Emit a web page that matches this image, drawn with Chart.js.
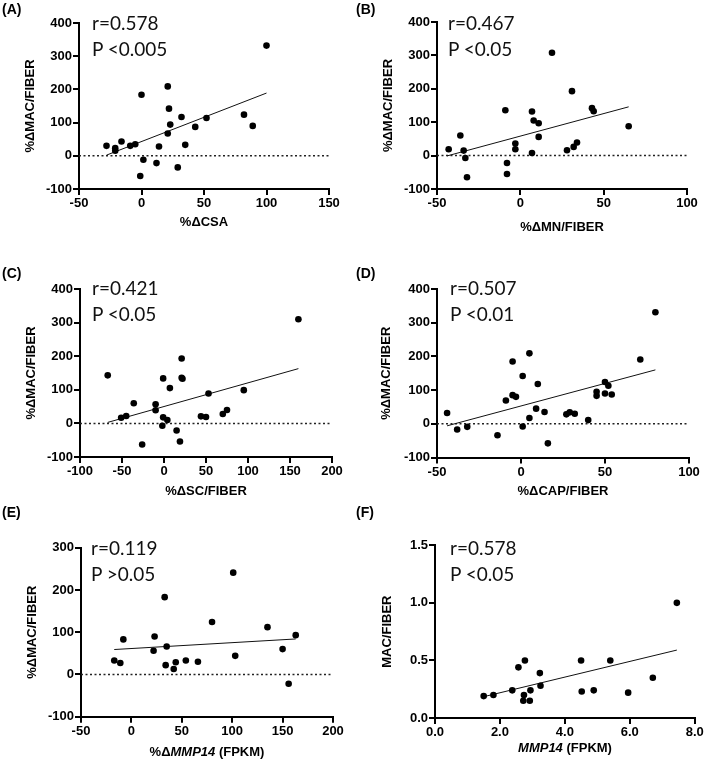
<!DOCTYPE html>
<html>
<head>
<meta charset="utf-8">
<script src="https://cdn.jsdelivr.net/npm/chart.js@4.4.1/dist/chart.umd.min.js"></script>
<style>
body { margin: 0; background: #fff; width: 709px; height: 769px; position: relative; overflow: hidden; font-family: "Liberation Sans", Arial, sans-serif; }
canvas { position: absolute; }
.tag { position: absolute; font-weight: bold; font-size: 14px; line-height: 14px; color: #000; }
.stat { position: absolute; font-family: Lato, sans-serif; font-size: 19px; line-height: 25.5px; color: #111; white-space: nowrap; }
.xt { position: absolute; font-weight: bold; font-size: 13px; line-height: 13px; text-align: center; color: #000; white-space: nowrap; }
</style>
</head>
<body>
<canvas id="pa" width="354" height="250" style="left:0;top:0"></canvas>
<canvas id="pb" width="355" height="250" style="left:354px;top:0"></canvas>
<canvas id="pc" width="354" height="260" style="left:0;top:250px"></canvas>
<canvas id="pd" width="355" height="260" style="left:354px;top:250px"></canvas>
<canvas id="pe" width="354" height="259" style="left:0;top:510px"></canvas>
<canvas id="pf" width="355" height="259" style="left:354px;top:510px"></canvas>

<div class="tag" style="left:2px;top:2px">(A)</div>
<div class="tag" style="left:356px;top:2px">(B)</div>
<div class="tag" style="left:2px;top:266px">(C)</div>
<div class="tag" style="left:356px;top:266px">(D)</div>
<div class="tag" style="left:2px;top:505px">(E)</div>
<div class="tag" style="left:356px;top:505px">(F)</div>

<div class="stat" style="left:92px;top:10px">r=0.578<br>P &lt;0.005</div>
<div class="stat" style="left:448px;top:10px">r=0.467<br>P &lt;0.05</div>
<div class="stat" style="left:92px;top:275px">r=0.421<br>P &lt;0.05</div>
<div class="stat" style="left:450px;top:275px">r=0.507<br>P &lt;0.01</div>
<div class="stat" style="left:91px;top:535px">r=0.119<br>P &gt;0.05</div>
<div class="stat" style="left:450px;top:535px">r=0.578<br>P &lt;0.05</div>

<div class="xt" style="left:81px;width:252px;top:745px">%&Delta;<i>MMP14</i> (FPKM)</div>
<div class="xt" style="left:435px;width:260px;top:741px"><i>MMP14</i> (FPKM)</div>

<script>
// (A) %dCSA vs %dMAC/FIBER
const aX = [100, 21, 0, 22, 32, 23, 21, 43, 52, 82, 89, -28, -21, -21, -16, -9, -5, 14, 35, 1.5, 12, 29, -1];
const aY = [332, 209, 184, 142, 117, 94, 67, 87, 114, 124, 90, 30, 23, 15, 43, 30, 35, 28, 33, -12, -22, -35, -61];
const aFitX = [-28, 100];
const aFitY = [2, 189];

// (B) %dMN/FIBER
const bX = [19, 31, -9, 7, 8, 11, 43, 44, 65, 11, -36, -43, -34, -33, -32, -3, -3, 7, -8, -8, 28, 32, 34];
const bY = [308, 193, 136, 132, 105, 97, 142, 133, 88, 56, 60, 19, 15, -7, -65, 36, 19, 8, -22, -55, 16, 26, 39];
const bFitX = [-44, 65];
const bFitY = [-1, 146];

// (C) %dSC/FIBER
const cX = [160, -67, 21, 21, 22, -1, 7, 53, 95, -36, -10, -10, -51, -45, -1, 4, -2, 15, 19, -26, 44, 50, 70, 75];
const cY = [310, 143, 193, 136, 133, 134, 105, 89, 99, 60, 57, 39, 17, 22, 18, 10, -7, -21, -54, -63, 21, 19, 28, 40];
const cFitX = [-67, 160];
const cFitY = [3, 163];

// (D) %dCAP/FIBER
const dX = [80, 71, 5, -5, 1, 10, -5, -3, -9, 9, 14, 5, 1, -14, 16, -44, -38, -32, 27, 29, 32, 40, 45, 45, 50, 52, 50, 54];
const dY = [331, 191, 209, 185, 142, 118, 85, 80, 69, 45, 35, 17, -8, -34, -58, 32, -17, -9, 28, 34, 30, 11, 95, 83, 124, 113, 90, 87];
const dFitX = [-44, 80];
const dFitY = [-6, 160];

// (E) %dMMP14 (FPKM)
const eX = [101, 33, 80, 135, -8, 23, 163, 35, 22, 150, 103, -17, -11, 54, 66, 44, 34, 42, 156];
const eY = [241, 183, 124, 112, 83, 90, 93, 66, 56, 60, 44, 33, 27, 33, 30, 29, 22, 13, -22];
const eFitX = [-17, 163];
const eFitY = [59, 84];

// (F) MMP14 (FPKM) vs MAC/FIBER
const fX = [7.45, 1.5, 1.8, 2.38, 2.57, 2.77, 2.74, 2.72, 2.92, 2.94, 3.23, 3.25, 4.5, 4.52, 4.89, 5.4, 5.95, 6.71];
const fY = [1.0, 0.19, 0.2, 0.24, 0.44, 0.5, 0.2, 0.15, 0.15, 0.24, 0.39, 0.28, 0.5, 0.23, 0.24, 0.5, 0.22, 0.35];
const fFitX = [1.5, 7.45];
const fFitY = [0.185, 0.59];

const MAC_TITLE = '%\u0394MAC/FIBER';
const TICK_FONT = {family: 'Liberation Sans', size: 13, weight: 'bold'};

function pts(xs, ys) {
    return xs.map((x, i) => ({x: x, y: ys[i]}));
}

function oneDecimal(v) {
    return Number(v).toFixed(1);
}

function axis(min, max, step, title, titlePad, fixed, isY, fmt) {
    return {
        type: 'linear',
        min: min,
        max: max,
        ticks: {
            stepSize: step,
            color: '#000',
            font: TICK_FONT,
            padding: 1,
            maxRotation: 0,
            callback: fmt ? fmt : (v) => v
        },
        grid: {display: true, drawOnChartArea: false, drawTicks: true, tickLength: 6, color: '#000', lineWidth: 2},
        border: {display: true, color: '#000', width: 2},
        title: {
            display: !!title,
            text: title,
            color: '#000',
            font: {family: 'Liberation Sans', size: 13, weight: 'bold'},
            padding: isY ? {top: titlePad, bottom: 0} : {top: 0, bottom: titlePad}
        },
        afterFit: (scale) => {
            if (isY) scale.width = fixed; else scale.height = fixed;
        }
    };
}

function makePanel(id, p) {
    const canvas = document.getElementById(id);
    const datasets = [
        {type: 'scatter', data: pts(p.x, p.y), pointRadius: 3.3, pointBackgroundColor: '#000', pointBorderWidth: 0, order: 1},
        {type: 'line', data: pts(p.fitX, p.fitY), borderColor: '#111', borderWidth: 1, pointRadius: 0, fill: false, order: 2}
    ];
    if (p.zero) {
        datasets.push({type: 'line', data: pts([p.xr[0], p.xr[1]], [0, 0]), borderColor: '#222', borderWidth: 1.5,
            borderDash: [2, 2.5], pointRadius: 0, fill: false, order: 3});
    }
    return new Chart(canvas, {
        type: 'scatter',
        data: {datasets: datasets},
        options: {
            responsive: false,
            animation: false,
            events: [],
            layout: {padding: {left: 0, top: p.area[1], right: canvas.width - p.area[2], bottom: 0}},
            plugins: {legend: {display: false}, tooltip: {enabled: false}},
            scales: {
                x: axis(p.xr[0], p.xr[1], p.xr[2], p.xTitle, p.xPad, canvas.height - p.area[3], false, p.fmt),
                y: axis(p.yr[0], p.yr[1], p.yr[2], p.yTitle, p.yPad, p.area[0], true, p.fmt)
            }
        }
    });
}

makePanel('pa', {x: aX, y: aY, fitX: aFitX, fitY: aFitY, zero: true, xr: [-50, 150, 50], yr: [-100, 400, 100],
    xTitle: '%\u0394CSA', yTitle: MAC_TITLE, xPad: 20, yPad: 23, area: [79, 23, 329, 189]});
makePanel('pb', {x: bX, y: bY, fitX: bFitX, fitY: bFitY, zero: true, xr: [-50, 100, 50], yr: [-100, 400, 100],
    xTitle: '%\u0394MN/FIBER', yTitle: MAC_TITLE, xPad: 15, yPad: 27, area: [83, 22, 333, 189]});
makePanel('pc', {x: cX, y: cY, fitX: cFitX, fitY: cFitY, zero: true, xr: [-100, 200, 50], yr: [-100, 400, 100],
    xTitle: '%\u0394SC/FIBER', yTitle: MAC_TITLE, xPad: 11, yPad: 24, area: [80, 39, 332, 207]});
makePanel('pd', {x: dX, y: dY, fitX: dFitX, fitY: dFitY, zero: true, xr: [-50, 100, 50], yr: [-100, 400, 100],
    xTitle: '%\u0394CAP/FIBER', yTitle: MAC_TITLE, xPad: 11, yPad: 25, area: [83, 39, 335, 207.5]});
makePanel('pe', {x: eX, y: eY, fitX: eFitX, fitY: eFitY, zero: true, xr: [-50, 200, 50], yr: [-100, 300, 100],
    xTitle: '', yTitle: MAC_TITLE, xPad: 0, yPad: 25, area: [81, 37.7, 333, 206.7]});
makePanel('pf', {x: fX, y: fY, fitX: fFitX, fitY: fFitY, zero: false, xr: [0, 8, 2], yr: [0, 1.5, 0.5],
    xTitle: '', yTitle: 'MAC/FIBER', xPad: 0, yPad: 26, area: [81, 35.3, 340.7, 208], fmt: oneDecimal});
</script>
</body>
</html>
